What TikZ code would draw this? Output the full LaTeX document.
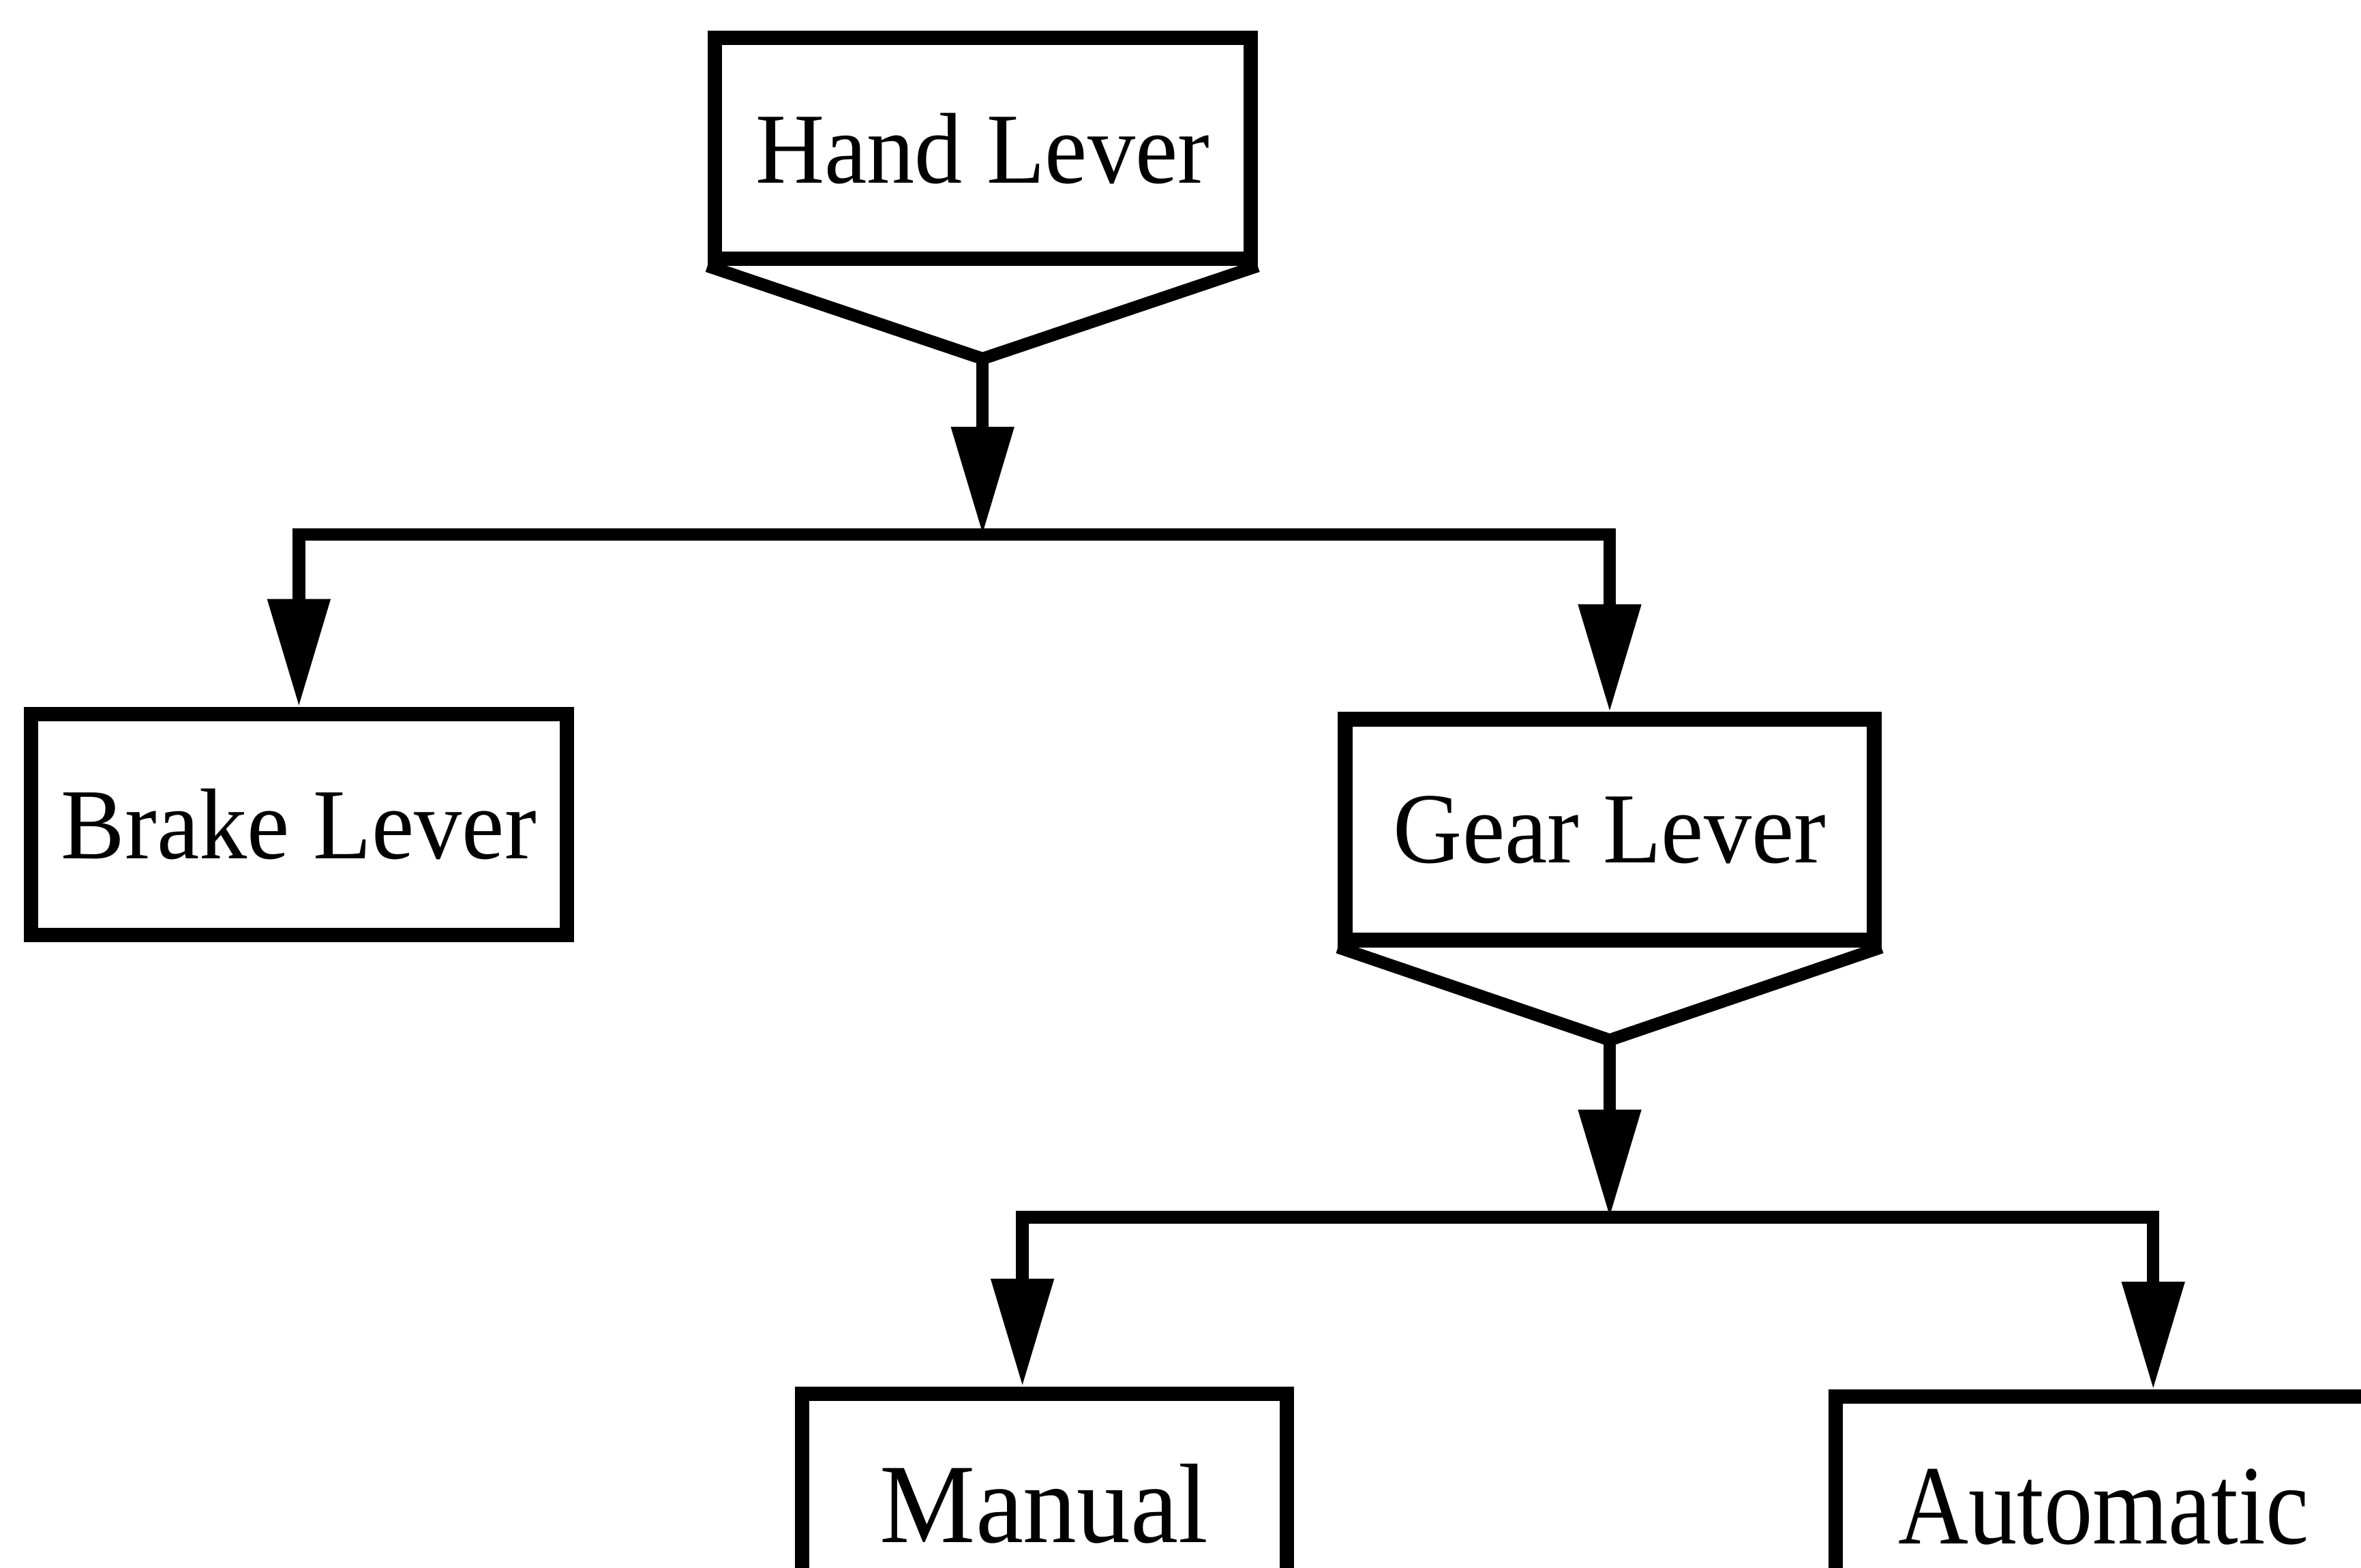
\documentclass[tikz,border=0pt]{standalone}
\usepackage{fontspec}
\setmainfont{Liberation Serif}[FakeStretch=0.95]
\usetikzlibrary{arrows.meta,calc}

\tikzset{
  lever/.style={draw,line width=3pt,minimum width=3.93cm,minimum height=1.62cm,inner sep=0pt,font=\fontsize{21}{25}\selectfont},
  kind/.style={lever,font=\fontsize{23.6}{28}\selectfont},
  link/.style={line width=2.6pt},
  >={Triangle[length=7.9mm,width=4.4mm]}
}

\begin{document}
\begin{tikzpicture}
    \useasboundingbox (0,0) rectangle (17.315,11.496);
    \node[lever] (hand) at (7.206,10.408) {Hand Lever};
    \node[lever] (brake) at (2.192,5.450) {Brake Lever};
    \node[lever,minimum width=3.88cm] (gear) at (11.805,5.411) {Gear Lever};
    \node[kind,minimum width=3.555cm] (manual) at (7.658,0.465) {Manual};
    \node[kind,font=\fontsize{23.6}{28}\selectfont\addfontfeatures{FakeStretch=0.86}] (auto) at (15.427,0.443) {Automatic};
    \coordinate (handtip) at ([yshift=-0.68cm]hand.south);
    \coordinate (geartip) at ([yshift=-0.68cm]gear.south);
    \coordinate (hbar) at ($(handtip)+(0,-1.29)$);
    \coordinate (gbar) at ($(geartip)+(0,-1.30)$);
    \coordinate (mdrop) at ([xshift=-0.16cm]manual.north |- gbar);
    \coordinate (adrop) at ([xshift=0.364cm]auto.north |- gbar);
    \draw[link] (hand.south west) -- (handtip) -- (hand.south east);
    \draw[link] (gear.south west) -- (geartip) -- (gear.south east);
    \draw[link,->] (handtip) -- (hbar);
    \draw[link,<->] (brake.north) -- (brake.north |- hbar) -- (gear.north |- hbar) -- (gear.north);
    \draw[link,->] (geartip) -- (gbar);
    \draw[link,<->] (manual.north -| mdrop) -- (mdrop) -- (adrop) -- (auto.north -| adrop);
\end{tikzpicture}
\end{document}
